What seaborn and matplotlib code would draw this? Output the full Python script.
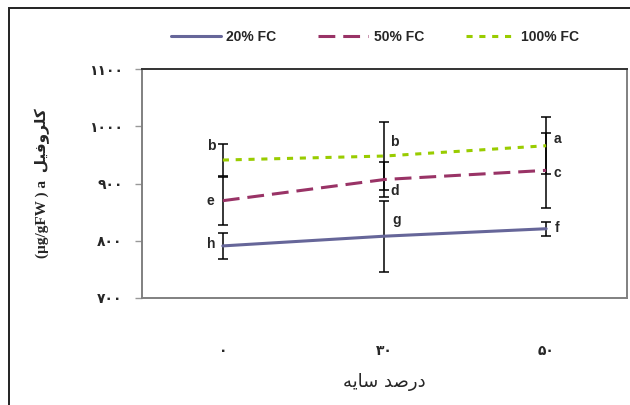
import numpy as np
import pandas as pd
import matplotlib
matplotlib.use("Agg")
import matplotlib.pyplot as plt
from matplotlib.patches import Rectangle
import seaborn as sns

# shade levels (x categories) and chlorophyll a per water regime
shade = ["۰", "۳۰", "۵۰"]
fc20 = [791, 808, 821]
fc50 = [870, 907, 923]
fc100 = [941, 948, 966]
err20 = [23, 62, 12]
err50 = [42, 31, 66]
err100 = [28, 60, 50]
letters20 = ["h", "g", "f"]
letters50 = ["e", "d", "c"]
letters100 = ["b", "b", "a"]
series_names = ["20% FC", "50% FC", "100% FC"]
y_ticks = [700, 800, 900, 1000, 1100]
y_ticklabels = ["۷۰۰", "۸۰۰", "۹۰۰", "۱۰۰۰", "۱۱۰۰"]

# Persian labels written in visual order with presentation forms (matplotlib has no shaping)
xlabel = "\uFEEA\uFEF3\uFE8E\uFEB3 \uFEAA\uFEBB\uFEAD\uFEA9"          # درصد سایه
ylabel = "(µg/gFW ) a  \uFEDE\uFEF4\uFED3\uFEED\uFEAE\uFEE0\uFEDB"    # کلروفیل a (µg/gFW)

colors = {"20% FC": "#666699", "50% FC": "#993366", "100% FC": "#99CC00"}
dashes = {"20% FC": "", "50% FC": (5.5, 2.6), "100% FC": (2.0, 2.2)}

df = pd.DataFrame({
    "shade": shade * 3,
    "value": fc20 + fc50 + fc100,
    "series": np.repeat(series_names, 3),
})

sns.set_style("white")
fig = plt.figure(figsize=(6.3, 4.05), dpi=100)
ax = fig.add_axes([0.2254, 0.2642, 0.7698, 0.5654])

sns.lineplot(data=df, x="shade", y="value", hue="series", style="series",
             palette=colors, dashes=dashes, hue_order=series_names,
             style_order=series_names, linewidth=2.2, ax=ax, legend=True)

xs = np.arange(len(shade))
offsets = {
    "20% FC": [(-12, 2), (12, 16), (11, 1)],
    "50% FC": [(-12, 0), (10, -12), (11, -3)],
    "100% FC": [(-12, 14), (10, 14), (11, 7)],
}
for name, vals, errs, lets in [("20% FC", fc20, err20, letters20),
                               ("50% FC", fc50, err50, letters50),
                               ("100% FC", fc100, err100, letters100)]:
    ax.errorbar(xs, vals, yerr=errs, fmt="none", ecolor="black", elinewidth=1.1,
                capsize=3.3, capthick=1.1, zorder=1)
    for i, (v, l) in enumerate(zip(vals, lets)):
        dx, dy = offsets[name][i]
        ax.annotate(l, xy=(xs[i], v), xytext=(dx * 0.72, dy * 0.72),
                    textcoords="offset points", ha="center", va="center",
                    fontsize=10, fontweight="bold", family="Liberation Sans")

ax.set_xlim(-0.5, 2.5)
ax.set_ylim(700, 1100)
ax.set_yticks(y_ticks)
ax.set_yticklabels(y_ticklabels, fontsize=10, fontweight="bold", family="DejaVu Sans")
ax.set_xticks(xs)
ax.set_xticklabels(shade, fontsize=10, fontweight="bold", family="DejaVu Sans")
ax.set_xticks([-0.5, 0.5, 1.5, 2.5], minor=True)
ax.tick_params(axis="x", which="major", length=0, pad=33)
ax.tick_params(axis="x", which="minor", length=5, color="#999999", width=1)
ax.tick_params(axis="y", length=5, color="#999999", width=1, pad=9, left=True)

ax.set_xlabel(xlabel, fontsize=13, family="DejaVu Sans", labelpad=11)
ax.set_ylabel(ylabel, fontsize=11, fontweight="bold",
              family=["Liberation Serif", "DejaVu Sans"], labelpad=28)

for side, sp in ax.spines.items():
    sp.set_visible(True)
    sp.set_color("#808080")
    sp.set_linewidth(1.4)
ax.spines["top"].set_color("#333333")

ax.get_legend().remove()
handles, labels = ax.get_legend_handles_labels()
fig.legend(handles, labels, loc="center", bbox_to_anchor=(375 / 630, 1 - 37 / 405),
           ncol=3, frameon=False, handlelength=3.6, columnspacing=3.0,
           handletextpad=0.4, prop={"family": "Liberation Sans", "weight": "bold", "size": 10})

# outer chart frame
fig.patches.append(Rectangle((9 / 630, -0.1), 1.0, (405 - 8) / 405 + 0.1,
                             transform=fig.transFigure, fill=False,
                             edgecolor="#222222", linewidth=1.4))

fig.savefig("out.png", dpi=100)
